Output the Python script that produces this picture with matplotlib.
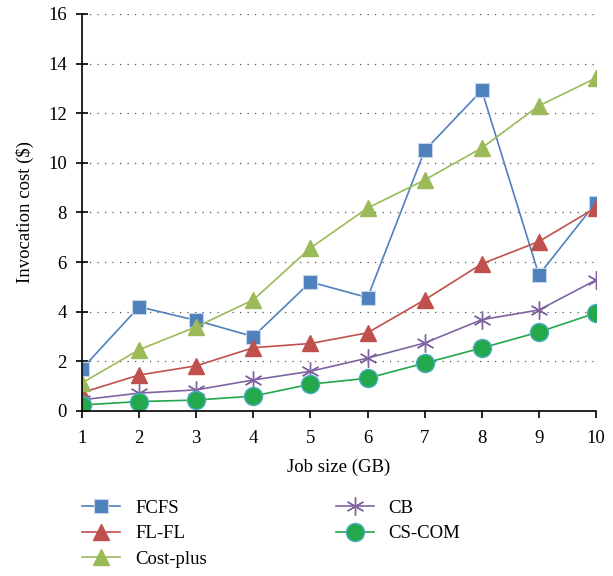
import matplotlib
matplotlib.use('Agg')
import matplotlib.pyplot as plt

plt.rcParams['font.family'] = ['Liberation Serif', 'DejaVu Serif']

job_size = [1, 2, 3, 4, 5, 6, 7, 8, 9, 10]
fcfs = [1.7, 4.2, 3.65, 3.0, 5.2, 4.57, 10.5, 12.92, 5.48, 8.4]
fl_fl = [0.74, 1.45, 1.82, 2.55, 2.72, 3.15, 4.48, 5.93, 6.83, 8.2]
cost_plus = [1.13, 2.47, 3.39, 4.48, 6.57, 8.18, 9.31, 10.6, 12.3, 13.42]
cb = [0.45, 0.72, 0.85, 1.25, 1.6, 2.13, 2.74, 3.68, 4.07, 5.28]
cs_com = [0.24, 0.38, 0.44, 0.6, 1.08, 1.32, 1.93, 2.54, 3.18, 3.95]

fig = plt.figure(figsize=(6.13, 5.76), dpi=100)
ax = fig.add_axes([0.1338, 0.2865, 0.8385, 0.6892])

ax.plot(job_size, fcfs, '-s', color='#4F81BD', lw=1.2, ms=10, mec='#C6D5EA', mew=0.8, label='FCFS')
ax.plot(job_size, fl_fl, '-^', color='#C0504D', lw=1.2, ms=11, mec='#C0504D', label='FL-FL')
ax.plot(job_size, cost_plus, '-^', color='#9BBB59', lw=1.2, ms=11, mec='#9BBB59', label='Cost-plus')
ax.plot(job_size, cb, '-', marker=(6, 2, 0), color='#8064A2', lw=1.2, ms=13, mew=1.0, label='CB')
ax.plot(job_size, cs_com, '-o', color='#23A84A', lw=1.2, ms=13, mec='#4BACC6', mew=1.0, label='CS-COM')

ax.set_xlim(1, 10)
ax.set_ylim(0, 16)
ax.set_xticks(job_size)
ax.set_yticks(range(0, 17, 2))
ax.grid(axis='y', linestyle=(0, (1, 5)), color='#555555', lw=0.9)
ax.spines['top'].set_visible(False)
ax.spines['right'].set_visible(False)
ax.tick_params(axis='x', labelsize=13.5, direction='out', length=5, width=1.2, pad=9)
ax.tick_params(axis='y', labelsize=13.5, direction='inout', length=8, width=1.2, pad=7)
for s in ['left', 'bottom']:
    ax.spines[s].set_linewidth(1.2)

ax.set_xlabel('Job size (GB)', fontsize=13.5, labelpad=8)
ax.set_ylabel('Invocation cost ($)', fontsize=13.5, labelpad=10)

fig.legend(loc='upper left', bbox_to_anchor=(0.107, 0.162), ncol=2, frameon=False,
           fontsize=13.5, handlelength=2.0, handletextpad=0.8, columnspacing=6.9,
           labelspacing=0.45)

fig.savefig('out.png', dpi=100)
